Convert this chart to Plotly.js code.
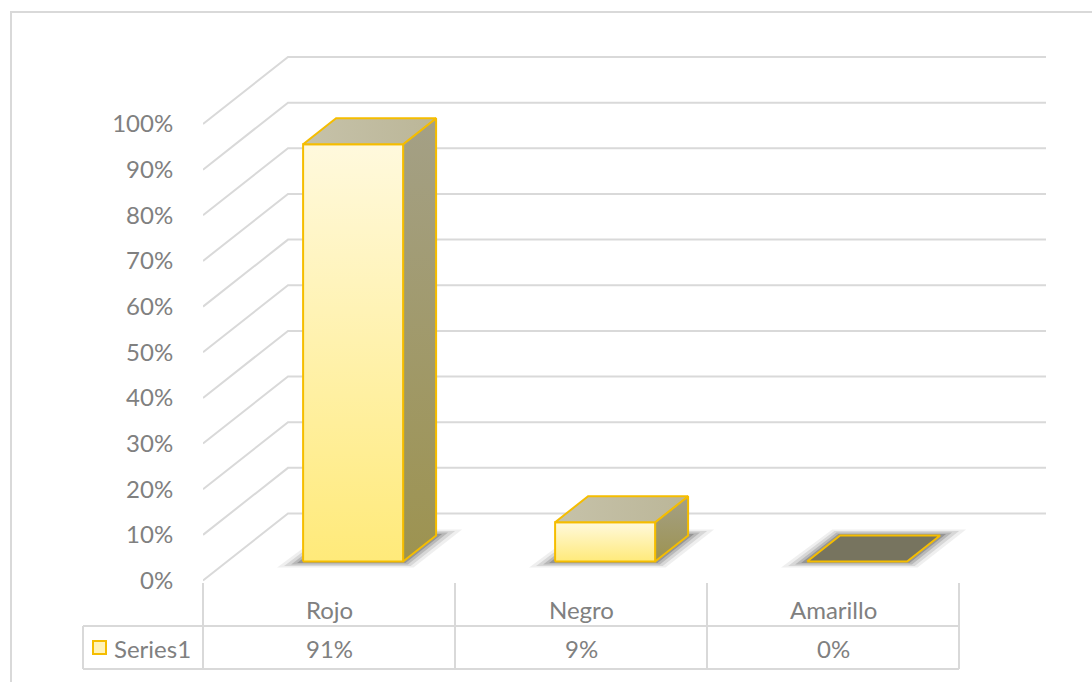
<!DOCTYPE html>
<html>
<head>
<meta charset="utf-8">
<script src="https://cdn.plot.ly/plotly-3.0.1.min.js"></script>
<style>
  html, body { margin: 0; padding: 0; background: #ffffff; }
  #chart { width: 1092px; height: 682px; }
</style>
</head>
<body>
<div id="chart"></div>
<script>
// ---- data ----
const categories = ['Rojo', 'Negro', 'Amarillo'];
const values = [91.4, 8.6, 0];           // percent
const seriesName = 'Series1';
const yTickValues = [0, 10, 20, 30, 40, 50, 60, 70, 80, 90, 100];

// ---- geometry (pixels -> axis units) ----
const W = 1092, H = 682;
const PLOT_L = 203, PLOT_R = 1046;
const X_PX_PER = 252;                 // px per category
const Y0_PX = 580.5, Y_PX_PER = 4.565; // px position of 0% and px per percent
const xRange = [-0.5, -0.5 + (PLOT_R - PLOT_L) / X_PX_PER];
const yRange = [(Y0_PX - H) / Y_PX_PER, Y0_PX / Y_PX_PER];
const DXU = 85 / X_PX_PER;            // full depth shift, x units
const DYU = 67 / Y_PX_PER;            // full depth shift, y units
const F0 = 19 / 67, F1 = 45 / 67;     // bar front/back depth fractions
const HW = 50 / X_PX_PER;             // half bar width

const px2paperX = px => (px - PLOT_L) / (PLOT_R - PLOT_L);
const px2paperY = py => 1 - py / H;

const GRID = '#d9d9d9';
const TEXT = '#808080';
const GOLD = '#f5bd00';
const FONT = 'Lato, "Open Sans", sans-serif';

const traces = [];

// back wall gridlines with diagonal side-wall segments
{
  const gx = [], gy = [];
  yTickValues.forEach(t => {
    gx.push(xRange[0], xRange[0] + DXU, xRange[1], null);
    gy.push(t, t + DYU, t + DYU, null);
  });
  traces.push({
    type: 'scatter', mode: 'lines', x: gx, y: gy,
    line: { color: GRID, width: 2 }, hoverinfo: 'skip', showlegend: false
  });
}

function poly(xs, ys, opts) {
  return Object.assign({
    type: 'scatter', mode: 'lines', fill: 'toself',
    x: xs.concat([xs[0]]), y: ys.concat([ys[0]]),
    hoverinfo: 'skip', showlegend: false
  }, opts);
}

// soft floor shadows (layered to imitate blur)
const shadowLayers = [[26, 6, 0.08], [19, 4.5, 0.12], [12, 3, 0.18], [6, 1.5, 0.25]];
values.forEach((v, i) => {
  const cx = i + F0 * DXU;
  const b0 = F0 * DYU;
  const ddx = (F1 - F0) * DXU, ddy = (F1 - F0) * DYU;
  shadowLayers.forEach(s => {
    const ex = s[0] / X_PX_PER, ey = s[1] / Y_PX_PER;
    traces.push(poly(
      [cx - HW - ex, cx + HW + ex * 0.4, cx + HW + ddx + ex, cx - HW + ddx - ex * 0.3],
      [b0 - ey, b0 - ey, b0 + ddy + ey, b0 + ddy + ey],
      { line: { width: 0, color: 'rgba(0,0,0,0)' }, fillcolor: 'rgba(45,45,45,' + s[2] + ')' }
    ));
  });
});

// 3D bars
values.forEach((v, i) => {
  const cx = i + F0 * DXU;
  const b0 = F0 * DYU;
  const ddx = (F1 - F0) * DXU, ddy = (F1 - F0) * DYU;
  const top = b0 + v;
  const xl = cx - HW, xr = cx + HW;
  if (v > 0) {
    // side face
    traces.push(poly(
      [xr, xr + ddx, xr + ddx, xr],
      [b0, b0 + ddy, top + ddy, top],
      {
        line: { color: GOLD, width: 2 },
        fillcolor: '#a19c78',
        fillgradient: { type: 'vertical', start: b0, stop: top + ddy,
          colorscale: [[0, '#9d9350'], [1, '#a4a086']] }
      }
    ));
    // front face
    traces.push(poly(
      [xl, xr, xr, xl],
      [b0, b0, top, top],
      {
        line: { color: GOLD, width: 2 },
        fillcolor: '#fff2ae',
        fillgradient: { type: 'vertical', start: b0, stop: top,
          colorscale: [[0, '#ffea7a'], [1, '#fff9dd']] }
      }
    ));
  }
  // top face
  traces.push(poly(
    [xl, xr, xr + ddx, xl + ddx],
    [top, top, top + ddy, top + ddy],
    v > 0 ? {
      line: { color: GOLD, width: 2 },
      fillcolor: '#c2bea3',
      fillgradient: { type: 'horizontal', start: xl, stop: xr + ddx,
        colorscale: [[0, '#c6c2a9'], [1, '#bbb698']] }
    } : {
      line: { color: GOLD, width: 2 },
      fillcolor: '#77745f'
    }
  ));
});

// ---- data table & decorations (paper coords) ----
const shapes = [];
const line = (x0, y0, x1, y1) => shapes.push({
  type: 'line', xref: 'paper', yref: 'paper',
  x0: px2paperX(x0), y0: px2paperY(y0), x1: px2paperX(x1), y1: px2paperY(y1),
  line: { color: GRID, width: 2 }, layer: 'below'
});
// outer chart border
shapes.push({
  type: 'rect', xref: 'paper', yref: 'paper',
  x0: px2paperX(11), y0: px2paperY(12), x1: px2paperX(1110), y1: px2paperY(700),
  line: { color: GRID, width: 2 }, fillcolor: 'rgba(0,0,0,0)', layer: 'below'
});
// column verticals
for (let k = 0; k <= categories.length; k++) {
  const xp = PLOT_L + k * X_PX_PER;
  line(xp, 583, xp, 669);
}
const tableR = PLOT_L + categories.length * X_PX_PER;
line(83, 626, tableR, 626);
line(83, 669, tableR, 669);
line(83, 626, 83, 669);
// legend key
shapes.push({
  type: 'rect', xref: 'paper', yref: 'paper',
  x0: px2paperX(93), y0: px2paperY(641), x1: px2paperX(106), y1: px2paperY(654),
  line: { color: GOLD, width: 2 }, fillcolor: '#fff3b8'
});

const annotations = [];
categories.forEach((c, i) => {
  annotations.push({
    xref: 'x', yref: 'paper', x: i, y: px2paperY(609),
    text: c, showarrow: false, xanchor: 'center', yanchor: 'middle',
    font: { family: FONT, size: 24, color: TEXT }
  });
  annotations.push({
    xref: 'x', yref: 'paper', x: i, y: px2paperY(648),
    text: Math.round(values[i]) + '%', showarrow: false, xanchor: 'center', yanchor: 'middle',
    font: { family: FONT, size: 24, color: TEXT }
  });
});
annotations.push({
  xref: 'paper', yref: 'paper', x: px2paperX(112), y: px2paperY(648),
  text: seriesName, showarrow: false, xanchor: 'left', yanchor: 'middle',
  font: { family: FONT, size: 24, color: TEXT }
});

const layout = {
  width: W, height: H,
  margin: { l: PLOT_L, r: W - PLOT_R, t: 0, b: 0, pad: 0 },
  paper_bgcolor: '#ffffff', plot_bgcolor: 'rgba(0,0,0,0)',
  showlegend: false,
  xaxis: {
    range: xRange, showgrid: false, zeroline: false, showticklabels: false,
    showline: false, ticks: '', fixedrange: true, automargin: false
  },
  yaxis: {
    range: yRange, showgrid: false, zeroline: false, showline: false,
    tickmode: 'array', tickvals: yTickValues,
    ticktext: yTickValues.map(t => t + '%'),
    ticks: 'outside', ticklen: 24, tickcolor: 'rgba(0,0,0,0)',
    tickfont: { family: FONT, size: 24, color: TEXT },
    fixedrange: true, automargin: false
  },
  shapes: shapes,
  annotations: annotations
};

Plotly.newPlot('chart', traces, layout, { displayModeBar: false, staticPlot: true });
</script>
</body>
</html>
